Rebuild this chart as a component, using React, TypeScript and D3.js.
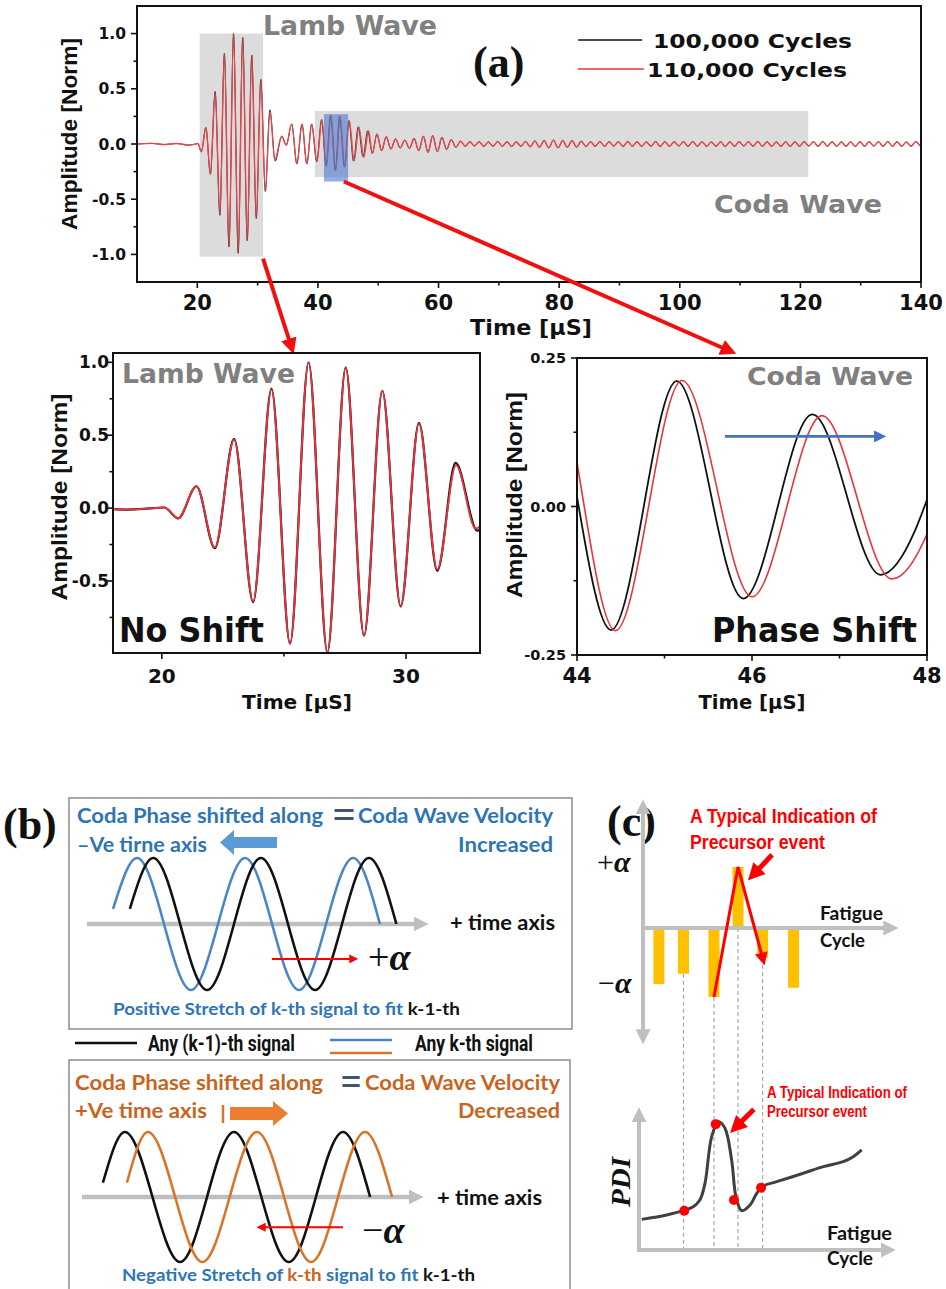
import { curveCatmullRom, curveMonotoneX, line, scaleLinear } from 'd3'

type Pt = [number, number]

// ---- (a) recorded signals: picked extrema [time µs, normalised amplitude]
const BLACK_EXTREMA: Pt[] = [
  [10, 0], [12.5, 0.006], [14.5, -0.005], [16.5, 0.005], [18.6, -0.01], [19.4, -0.004], [20.1, 0.004],
  [20.67, -0.07], [21.42, 0.15], [22.17, -0.275], [22.96, 0.475], [23.74, -0.645], [24.49, 0.82],
  [25.25, -0.93], [26.01, 1.0], [26.78, -0.99], [27.53, 0.965], [28.28, -0.875], [29.03, 0.805],
  [29.78, -0.675], [30.53, 0.585], [31.28, -0.43], [32.03, 0.31], [32.92, -0.155],
  [34.0, 0.07], [34.75, -0.01], [35.65, 0.18], [36.5, -0.18], [37.35, 0.18], [38.15, -0.18],
  [38.95, 0.18], [39.8, -0.16], [40.6, 0.22], [41.35, -0.2], [42.1, 0.26], [42.88, -0.24],
  [43.6, 0.25], [44.39, -0.208], [45.14, 0.211], [45.9, -0.155], [46.69, 0.155], [47.47, -0.115],
  [48.25, 0.12],
]
const RED_EXTREMA: Pt[] = [
  [10, 0], [12.5, 0.006], [14.5, -0.005], [16.5, 0.005], [18.6, -0.01], [19.4, -0.004], [20.1, 0.004],
  [20.67, -0.07], [21.42, 0.15], [22.17, -0.27], [22.96, 0.47], [23.74, -0.64], [24.49, 0.815],
  [25.25, -0.93], [26.01, 1.0], [26.78, -0.99], [27.53, 0.963], [28.28, -0.875], [29.03, 0.805],
  [29.78, -0.67], [30.53, 0.58], [31.28, -0.42], [32.05, 0.295], [32.85, -0.14],
  [34.0, 0.07], [34.75, -0.01], [35.66, 0.18], [36.52, -0.18], [37.37, 0.18], [38.18, -0.18],
  [38.98, 0.18], [39.84, -0.16], [40.65, 0.22], [41.4, -0.2], [42.16, 0.26], [42.94, -0.24],
  [43.68, 0.25], [44.44, -0.209], [45.2, 0.212], [46.0, -0.152], [46.8, 0.153], [47.6, -0.122],
  [48.4, 0.12],
]
// late coda, one extremum every half period
const TAIL_T0 = 49.02
const TAIL_DT = 0.77
const TAIL_AMPLITUDE = [
  -0.085, 0.09, -0.06, 0.065, -0.045, 0.045, -0.035, 0.035, -0.04, 0.05,
  -0.06, 0.07, -0.075, 0.075, -0.07, 0.06, -0.05, 0.04, -0.03, 0.025,
  -0.02, 0.02, -0.018, 0.02, -0.02, 0.018, -0.02, 0.022, -0.02, 0.02,
  -0.022, 0.02, -0.02, 0.022, -0.025, 0.028, -0.03, 0.032, -0.035, 0.035,
  -0.035, 0.032, -0.03, 0.03, -0.028, 0.025, -0.022, 0.02, -0.02, 0.022,
  -0.02, 0.02, -0.018, 0.02, -0.022, 0.022, -0.02, 0.02, -0.02, 0.018,
  -0.02, 0.022, -0.022, 0.02, -0.02, 0.02, -0.018, 0.02, -0.02, 0.022,
  -0.02, 0.02, -0.02, 0.018, -0.02, 0.02, -0.022, 0.02, -0.02, 0.02,
  -0.018, 0.02, -0.02, 0.022, -0.02, 0.02, -0.02, 0.018, -0.02, 0.02,
  -0.022, 0.02, -0.02, 0.02, -0.018, 0.02, -0.02, 0.022, -0.02, 0.02,
  -0.02, 0.018, -0.02, 0.02, -0.022, 0.02, -0.02, 0.02, -0.018, 0.02,
  -0.02, 0.022, -0.02, 0.02, -0.02, 0.018, -0.02, 0.02, -0.02,
]

const TOP_X_TICKS = [20, 40, 60, 80, 100, 120, 140]
const TOP_X_MINOR = [30, 50, 70, 90, 110, 130]
const TOP_Y_TICKS = [-1, -0.5, 0, 0.5, 1]
const TOP_Y_MINOR = [-0.75, -0.25, 0.25, 0.75]
const LAMB_X_TICKS = [20, 30]
const LAMB_X_MINOR = [25]
const LAMB_Y_TICKS = [-0.5, 0, 0.5, 1]
const LAMB_Y_MINOR = [-0.75, -0.25, 0.25, 0.75]
const CODA_X_TICKS = [44, 46, 48]
const CODA_X_MINOR = [45, 47]
const CODA_Y_TICKS = [-0.25, 0, 0.25]
const CODA_Y_MINOR = [-0.125, 0.125]

// ---- (b) schematic waves: extrema [time unit, normalised amplitude]
const B_UP_PREV: Pt[] = [[12.5, 0.23], [19.3, 1], [35.0, -1], [50.7, 1], [66.5, -1], [82.2, 1], [90.2, 0]]
const B_UP_CURR: Pt[] = [[7.6, 0.23], [14.6, 1], [30.3, -1], [46.1, 1], [61.8, -1], [77.6, 1], [85.4, 0]]
const B_DOWN_PREV: Pt[] = [[6.1, 0.22], [12.5, 1], [28.6, -1], [44.3, 1], [60.3, -1], [76.1, 1], [84.0, 0]]
const B_DOWN_CURR: Pt[] = [[13.1, 0.22], [19.2, 1], [35.1, -1], [51.0, 1], [66.8, -1], [82.5, 1], [90.4, 0]]

// ---- (c) stretching factor per fatigue cycle, and PDI trend
const C_CYCLES = [7.0, 16.6, 28.5, 37.9, 47.5, 59.6]
const C_ALPHA = [-0.92, -0.75, -1.13, 1.0, -0.49, -0.98]
const PDI_CURVE: Pt[] = [
  [0.3, 0.222], [10, 0.254], [16.5, 0.285], [20.4, 0.314], [23, 0.362], [25, 0.483], [27.6, 0.821],
  [30.2, 0.93], [32.8, 0.882], [35.4, 0.652], [37.1, 0.386], [39.3, 0.285], [42.6, 0.326],
  [45.2, 0.411], [47.8, 0.464], [53, 0.495], [63.4, 0.556], [71.2, 0.604], [79, 0.64],
  [82.9, 0.676], [86.2, 0.725],
]
const PDI_DOTS: Pt[] = [[16.9, 0.285], [29.2, 0.912], [36.3, 0.362], [46.9, 0.451]]

const DEJAVU = '"DejaVu Sans", Verdana, sans-serif'
const ARIAL = '"Liberation Sans", Arial, sans-serif'
const NARROW = '"Liberation Sans Narrow", "Liberation Sans", Arial, sans-serif'
const SERIF = '"Liberation Serif", "Times New Roman", serif'
const CALIBRI = 'Lato, "Open Sans", sans-serif'

const RED = '#e8343a'
const BLUE_TXT = '#2e75b6'
const ORANGE_TXT = '#c8641e'
const GRAY_TXT = '#808080'

const TOP = { x0: 137, x1: 921, y0: 6, y1: 282 }
const LZ = { x0: 113, x1: 480, y0: 353, y1: 653 }
const CZ = { x0: 577, x1: 927, y0: 358, y1: 655 }

const trace = (x: (v: number) => number, y: (v: number) => number) =>
  line<Pt>()
    .x((d) => x(d[0]))
    .y((d) => y(d[1]))
    .curve(curveMonotoneX)

const tailPoints: Pt[] = TAIL_AMPLITUDE.map((a, i) => [TAIL_T0 + i * TAIL_DT, a])

const Marker = ({ id, size, fill }: { id: string; size: number; fill: string }) => (
  <marker
    id={id}
    viewBox="0 0 10 10"
    refX="4"
    refY="5"
    markerWidth={size}
    markerHeight={size}
    markerUnits="userSpaceOnUse"
    orient="auto-start-reverse"
  >
    <path d="M0,0L10,5L0,10z" fill={fill} />
  </marker>
)

interface Box {
  x0: number
  x1: number
  y0: number
  y1: number
}

const Ticks = ({
  box,
  x,
  y,
  xTicks,
  xMinor,
  yTicks,
  yMinor,
}: {
  box: Box
  x: (v: number) => number
  y: (v: number) => number
  xTicks: number[]
  xMinor: number[]
  yTicks: number[]
  yMinor: number[]
}) => (
  <g stroke="#111" strokeWidth={1.6}>
    {xTicks.map((v) => (
      <line key={`xt${v}`} x1={x(v)} x2={x(v)} y1={box.y1} y2={box.y1 + 6} />
    ))}
    {xMinor.map((v) => (
      <line key={`xm${v}`} x1={x(v)} x2={x(v)} y1={box.y1} y2={box.y1 + 3.5} />
    ))}
    {yTicks.map((v) => (
      <line key={`yt${v}`} x1={box.x0 - 6} x2={box.x0} y1={y(v)} y2={y(v)} />
    ))}
    {yMinor.map((v) => (
      <line key={`ym${v}`} x1={box.x0 - 3.5} x2={box.x0} y1={y(v)} y2={y(v)} />
    ))}
    <rect x={box.x0} y={box.y0} width={box.x1 - box.x0} height={box.y1 - box.y0} fill="none" strokeWidth={2} />
  </g>
)

const topX = scaleLinear().domain([10, 140]).range([TOP.x0, TOP.x1])
const topY = scaleLinear().domain([-1.25, 1.25]).range([TOP.y1, TOP.y0])
const lambX = scaleLinear().domain([18, 33.03]).range([LZ.x0, LZ.x1])
const lambY = scaleLinear().domain([-0.994, 1.064]).range([LZ.y1, LZ.y0])
const codaX = scaleLinear().domain([44, 48]).range([CZ.x0, CZ.x1])
const codaY = scaleLinear().domain([-0.25, 0.25]).range([CZ.y1, CZ.y0])

const PanelA = () => {
  const gen = trace(topX, topY)
  const black = gen([...BLACK_EXTREMA, ...tailPoints]) ?? ''
  const red = gen([...RED_EXTREMA, ...tailPoints]) ?? ''
  return (
    <g>
      <clipPath id="clipTop">
        <rect x={TOP.x0} y={TOP.y0} width={TOP.x1 - TOP.x0} height={TOP.y1 - TOP.y0} />
      </clipPath>
      <rect x={topX(20.4)} y={topY(1.0)} width={topX(30.9) - topX(20.4)} height={topY(-1.02) - topY(1.0)} fill="#dcdcdc" />
      <rect x={topX(39.5)} y={topY(0.3)} width={topX(121.3) - topX(39.5)} height={topY(-0.3) - topY(0.3)} fill="#dcdcdc" />
      <g clipPath="url(#clipTop)" fill="none">
        <path d={black} stroke="#1a1a1a" strokeWidth={0.9} />
        <path d={red} stroke="#e4484c" strokeWidth={1.4} />
      </g>
      <rect x={topX(41)} y={topY(0.27)} width={topX(45) - topX(41)} height={topY(-0.34) - topY(0.27)} fill="#4a7ad2" fillOpacity={0.6} />
      <Ticks box={TOP} x={topX} y={topY} xTicks={TOP_X_TICKS} xMinor={TOP_X_MINOR} yTicks={TOP_Y_TICKS} yMinor={TOP_Y_MINOR} />
      <g fontFamily={DEJAVU} fontWeight={700} fill="#111">
        {TOP_X_TICKS.map((v) => (
          <text key={v} x={topX(v)} y={310} fontSize={21} textAnchor="middle">{v}</text>
        ))}
        {TOP_Y_TICKS.map((v) => (
          <text key={v} x={126} y={topY(v) + 5.5} fontSize={15.5} textAnchor="end">{v.toFixed(1)}</text>
        ))}
        <text x={531} y={335} fontSize={22} textAnchor="middle" textLength={122} lengthAdjust="spacingAndGlyphs">Time [μS]</text>
        <text x={263} y={35} fontSize={26} fill={GRAY_TXT} textLength={174} lengthAdjust="spacingAndGlyphs">Lamb Wave</text>
        <text x={714} y={213} fontSize={25} fill={GRAY_TXT} textLength={168} lengthAdjust="spacingAndGlyphs">Coda Wave</text>
        <text x={653} y={48} fontSize={19.5} textLength={199} lengthAdjust="spacingAndGlyphs">100,000 Cycles</text>
        <text x={647} y={77} fontSize={19.5} textLength={200} lengthAdjust="spacingAndGlyphs">110,000 Cycles</text>
      </g>
      <line x1={578} x2={642} y1={40} y2={40} stroke="#111" strokeWidth={1.5} />
      <line x1={578} x2={644} y1={69} y2={69} stroke={RED} strokeWidth={1.5} />
      <text x={473} y={77} fontFamily={SERIF} fontWeight={700} fontSize={44} fill="#111">(a)</text>
      <text
        transform="translate(77,134) rotate(-90)"
        textAnchor="middle"
        fontFamily={ARIAL}
        fontWeight={700}
        fontSize={22}
        textLength={192}
        lengthAdjust="spacingAndGlyphs"
        fill="#111"
      >
        Amplitude [Norm]
      </text>
      {/* zoom connectors */}
      <line x1={topX(30.9)} y1={topY(-1.02) + 2} x2={lambX(25.28)} y2={LZ.y0 - 8} stroke="#f01010" strokeWidth={4} markerEnd="url(#ahRedA)" />
      <line x1={topX(44.3)} y1={topY(-0.34)} x2={codaX(45.72)} y2={CZ.y0 - 8} stroke="#f01010" strokeWidth={4} markerEnd="url(#ahRedA)" />
    </g>
  )
}

const YLabel = ({ x, y, len }: { x: number; y: number; len: number }) => (
  <text
    transform={`translate(${x},${y}) rotate(-90)`}
    textAnchor="middle"
    fontFamily={ARIAL}
    fontWeight={700}
    fontSize={22}
    textLength={len}
    lengthAdjust="spacingAndGlyphs"
    fill="#111"
  >
    Amplitude [Norm]
  </text>
)

const LambZoom = () => {
  const gen = trace(lambX, lambY)
  return (
    <g>
      <clipPath id="clipLamb">
        <rect x={LZ.x0} y={LZ.y0 - 2} width={LZ.x1 - LZ.x0} height={LZ.y1 - LZ.y0 + 4} />
      </clipPath>
      <g clipPath="url(#clipLamb)" fill="none">
        <path d={gen(BLACK_EXTREMA) ?? ''} stroke="#111" strokeWidth={2.2} />
        <path d={gen(RED_EXTREMA) ?? ''} stroke={RED} strokeWidth={1.8} />
      </g>
      <Ticks box={LZ} x={lambX} y={lambY} xTicks={LAMB_X_TICKS} xMinor={LAMB_X_MINOR} yTicks={LAMB_Y_TICKS} yMinor={LAMB_Y_MINOR} />
      <g fontFamily={DEJAVU} fontWeight={700} fill="#111">
        {LAMB_X_TICKS.map((v) => (
          <text key={v} x={lambX(v)} y={683} fontSize={20} textAnchor="middle">{v}</text>
        ))}
        {LAMB_Y_TICKS.map((v) => (
          <text key={v} x={109} y={lambY(v) + 6} fontSize={17} textAnchor="end">{v.toFixed(1)}</text>
        ))}
        <text x={297} y={709} fontSize={20} textAnchor="middle" textLength={110} lengthAdjust="spacingAndGlyphs">Time [μS]</text>
        <text x={122} y={383} fontSize={26} fill={GRAY_TXT} textLength={173} lengthAdjust="spacingAndGlyphs">Lamb Wave</text>
        <text x={119} y={642} fontSize={34} textLength={145} lengthAdjust="spacingAndGlyphs">No Shift</text>
      </g>
      <YLabel x={67} y={497} len={207} />
    </g>
  )
}

const CodaZoom = () => {
  const gen = trace(codaX, codaY)
  return (
    <g>
      <clipPath id="clipCoda">
        <rect x={CZ.x0} y={CZ.y0} width={CZ.x1 - CZ.x0} height={CZ.y1 - CZ.y0} />
      </clipPath>
      <g clipPath="url(#clipCoda)" fill="none">
        <path d={gen(BLACK_EXTREMA) ?? ''} stroke="#111" strokeWidth={1.8} />
        <path d={gen(RED_EXTREMA) ?? ''} stroke={RED} strokeWidth={1.6} />
      </g>
      <line x1={codaX(45.69)} x2={codaX(47.45)} y1={codaY(0.118)} y2={codaY(0.118)} stroke="#4472c4" strokeWidth={2.6} markerEnd="url(#ahBlue)" />
      <Ticks box={CZ} x={codaX} y={codaY} xTicks={CODA_X_TICKS} xMinor={CODA_X_MINOR} yTicks={CODA_Y_TICKS} yMinor={CODA_Y_MINOR} />
      <g fontFamily={DEJAVU} fontWeight={700} fill="#111">
        {CODA_X_TICKS.map((v) => (
          <text key={v} x={codaX(v)} y={683} fontSize={21} textAnchor="middle">{v}</text>
        ))}
        {CODA_Y_TICKS.map((v) => (
          <text key={v} x={566} y={codaY(v) + 5} fontSize={14.5} textAnchor="end">{v.toFixed(2)}</text>
        ))}
        <text x={752} y={709} fontSize={20} textAnchor="middle" textLength={107} lengthAdjust="spacingAndGlyphs">Time [μS]</text>
        <text x={747} y={385} fontSize={25} fill={GRAY_TXT} textLength={166} lengthAdjust="spacingAndGlyphs">Coda Wave</text>
        <text x={712} y={642} fontSize={34} textLength={205} lengthAdjust="spacingAndGlyphs">Phase Shift</text>
      </g>
      <YLabel x={522} y={495} len={206} />
    </g>
  )
}

const bTopX = scaleLinear().domain([0, 100]).range([87, 430])
const bTopY = scaleLinear().domain([-1, 1]).range([990, 858])
const bBotX = scaleLinear().domain([0, 100]).range([82, 425])
const bBotY = scaleLinear().domain([-1, 1]).range([1262, 1132])

const Txt = ({
  x,
  y,
  w,
  size = 21,
  fill,
  anchor = 'start',
  children,
  family = CALIBRI,
}: {
  x: number
  y: number
  w: number
  size?: number
  fill: string
  anchor?: 'start' | 'middle' | 'end'
  children: React.ReactNode
  family?: string
}) => (
  <text
    x={x}
    y={y}
    fontFamily={family}
    fontWeight={700}
    fontSize={size}
    fill={fill}
    textAnchor={anchor}
    textLength={w}
    lengthAdjust="spacingAndGlyphs"
  >
    {children}
  </text>
)

const PanelB = () => {
  const top = trace(bTopX, bTopY)
  const bot = trace(bBotX, bBotY)
  return (
    <g>
      <rect x={69} y={798} width={503} height={231} fill="none" stroke="#8c8c8c" strokeWidth={1.5} />
      <rect x={69} y={1060} width={501} height={240} fill="none" stroke="#8c8c8c" strokeWidth={1.5} />
      <text x={3} y={839} fontFamily={SERIF} fontWeight={700} fontSize={44} fill="#111">(b)</text>

      {/* upper: velocity increased */}
      <Txt x={77} y={823} w={246} fill={BLUE_TXT}>Coda Phase shifted along</Txt>
      <Txt x={333} y={824} w={22} size={28} fill="#44546a" family={ARIAL}>=</Txt>
      <Txt x={358} y={823} w={195} fill={BLUE_TXT}>Coda Wave Velocity</Txt>
      <Txt x={77} y={852} w={130} fill={BLUE_TXT}>–Ve tirne axis</Txt>
      <Txt x={553} y={852} w={95} fill={BLUE_TXT} anchor="end">Increased</Txt>
      <polygon points="220,842.5 234,830 234,837 277,837 277,848 234,848 234,855" fill="#5b9bd5" />
      <line x1={bTopX(0)} x2={bTopX(97)} y1={bTopY(0)} y2={bTopY(0)} stroke="#bfbfbf" strokeWidth={4.5} markerEnd="url(#ahGray)" />
      <path d={top(B_UP_CURR) ?? ''} fill="none" stroke="#4a86c5" strokeWidth={2.6} />
      <path d={top(B_UP_PREV) ?? ''} fill="none" stroke="#111" strokeWidth={2.6} />
      <line x1={bTopX(53.9)} x2={bTopX(77.5)} y1={bTopY(-0.53)} y2={bTopY(-0.53)} stroke="#ff0000" strokeWidth={2} markerEnd="url(#ahRedS)" />
      <text x={368} y={970} fontFamily={SERIF} fontSize={38} fill="#111">
        +<tspan fontStyle="italic" fontWeight={700}>α</tspan>
      </text>
      <Txt x={450} y={930} w={105} size={20} fill="#111">+ time axis</Txt>
      <text x={113} y={1015} fontFamily={CALIBRI} fontWeight={700} fontSize={17} textLength={347} lengthAdjust="spacingAndGlyphs">
        <tspan fill={BLUE_TXT}>Positive Stretch of k-th signal to fit </tspan>
        <tspan fill="#111">k-1-th</tspan>
      </text>

      {/* legend */}
      <line x1={75} x2={137} y1={1043} y2={1043} stroke="#111" strokeWidth={2.5} />
      <Txt x={148} y={1051} w={147} size={22} fill="#111" family="Roboto, sans-serif">Any (k-1)-th signal</Txt>
      <line x1={330} x2={392} y1={1040} y2={1040} stroke="#4a86c5" strokeWidth={2.5} />
      <line x1={330} x2={392} y1={1053} y2={1053} stroke="#d9752a" strokeWidth={2.5} />
      <Txt x={415} y={1051} w={118} size={22} fill="#111" family="Roboto, sans-serif">Any k-th signal</Txt>

      {/* lower: velocity decreased */}
      <Txt x={75} y={1090} w={248} fill={ORANGE_TXT}>Coda Phase shifted along</Txt>
      <Txt x={341} y={1091} w={20} size={28} fill="#44546a" family={ARIAL}>=</Txt>
      <Txt x={365} y={1090} w={195} fill={ORANGE_TXT}>Coda Wave Velocity</Txt>
      <Txt x={75} y={1118} w={132} fill={ORANGE_TXT}>+Ve time axis</Txt>
      <Txt x={560} y={1118} w={102} fill={ORANGE_TXT} anchor="end">Decreased</Txt>
      <line x1={223} x2={223} y1={1105} y2={1123} stroke="#d9752a" strokeWidth={2.5} />
      <polygon points="230,1107 273,1107 273,1101 288,1113.5 273,1126 273,1120 230,1120" fill="#ed7d31" />
      <line x1={bBotX(0)} x2={bBotX(97)} y1={bBotY(0)} y2={bBotY(0)} stroke="#bfbfbf" strokeWidth={4.5} markerEnd="url(#ahGray)" />
      <path d={bot(B_DOWN_PREV) ?? ''} fill="none" stroke="#111" strokeWidth={2.6} />
      <path d={bot(B_DOWN_CURR) ?? ''} fill="none" stroke="#d9752a" strokeWidth={2.6} />
      <line x1={bBotX(76.1)} x2={bBotX(52.5)} y1={bBotY(-0.465)} y2={bBotY(-0.465)} stroke="#ff0000" strokeWidth={2} markerEnd="url(#ahRedS)" />
      <text x={362} y={1243} fontFamily={SERIF} fontSize={38} fill="#111">
        −<tspan fontStyle="italic" fontWeight={700}>α</tspan>
      </text>
      <Txt x={437} y={1205} w={105} size={20} fill="#111">+ time axis</Txt>
      <text x={122} y={1281} fontFamily={CALIBRI} fontWeight={700} fontSize={17} textLength={353} lengthAdjust="spacingAndGlyphs">
        <tspan fill={BLUE_TXT}>Negative Stretch of </tspan>
        <tspan fill={ORANGE_TXT}>k-th</tspan>
        <tspan fill={BLUE_TXT}> signal to fit </tspan>
        <tspan fill="#111">k-1-th</tspan>
      </text>
    </g>
  )
}

const cycleX = scaleLinear().domain([0, 100]).range([641, 897])
const alphaY = scaleLinear().domain([-1, 1]).range([989, 867])
const pdiY = scaleLinear().domain([0, 1]).range([1250, 1112])

const PanelC = () => {
  const zig = line<number>()
    .x((i) => cycleX(C_CYCLES[i]))
    .y((i) => alphaY(C_ALPHA[i]))([2, 3, 4]) ?? ''
  const pdi = line<Pt>()
    .x((d) => cycleX(d[0]))
    .y((d) => pdiY(d[1]))
    .curve(curveCatmullRom)(PDI_CURVE) ?? ''
  return (
    <g>
      <text x={607} y={836} fontFamily={SERIF} fontWeight={700} fontSize={44} fill="#111">(c)</text>
      {[1, 2, 3, 4].map((i) => (
        <line
          key={i}
          x1={cycleX(C_CYCLES[i])}
          x2={cycleX(C_CYCLES[i])}
          y1={alphaY(Math.min(C_ALPHA[i], 0))}
          y2={pdiY(0)}
          stroke="#a6a6a6"
          strokeWidth={1.2}
          strokeDasharray="4 3"
        />
      ))}
      <line x1={cycleX(0) + 2} x2={cycleX(0) + 2} y1={alphaY(1.96)} y2={alphaY(-1.76)} stroke="#bfbfbf" strokeWidth={4} markerStart="url(#ahGray)" markerEnd="url(#ahGray)" />
      {C_CYCLES.map((c, i) => (
        <rect
          key={i}
          x={cycleX(c) - 5.5}
          width={11}
          y={alphaY(Math.max(C_ALPHA[i], 0))}
          height={Math.abs(alphaY(C_ALPHA[i]) - alphaY(0))}
          fill="#ffc000"
        />
      ))}
      <line x1={cycleX(0)} x2={cycleX(97)} y1={alphaY(0)} y2={alphaY(0)} stroke="#bfbfbf" strokeWidth={4} markerEnd="url(#ahGray)" />
      <path d={zig} fill="none" stroke="#ff0000" strokeWidth={3} markerEnd="url(#ahRedM)" />
      <line x1={cycleX(51.2)} y1={alphaY(1.2)} x2={cycleX(44.5)} y2={alphaY(0.9)} stroke="#ff0000" strokeWidth={5} markerEnd="url(#ahRedL)" />
      <text x={597} y={872} fontFamily={SERIF} fontSize={30} fill="#111">
        +<tspan fontStyle="italic" fontWeight={700}>α</tspan>
      </text>
      <text x={598} y={993} fontFamily={SERIF} fontSize={30} fill="#111">
        −<tspan fontStyle="italic" fontWeight={700}>α</tspan>
      </text>
      <Txt x={690} y={823} w={187} size={20} fill="#ff0000" family={NARROW}>A Typical Indication of</Txt>
      <Txt x={690} y={849} w={135} size={20} fill="#ff0000" family={NARROW}>Precursor event</Txt>
      <Txt x={820} y={920} w={63} size={18} fill="#111">Fatigue</Txt>
      <Txt x={820} y={947} w={45} size={18} fill="#111">Cycle</Txt>

      {/* PDI trend */}
      <line x1={cycleX(0) - 2} x2={cycleX(0) - 2} y1={pdiY(0) + 2} y2={pdiY(0.97)} stroke="#bfbfbf" strokeWidth={4} markerEnd="url(#ahGray)" />
      <line x1={cycleX(0) - 4} x2={cycleX(96)} y1={pdiY(0)} y2={pdiY(0)} stroke="#bfbfbf" strokeWidth={4} markerEnd="url(#ahGray)" />
      <path d={pdi} fill="none" stroke="#404040" strokeWidth={3} />
      {PDI_DOTS.map((d, i) => (
        <circle key={i} cx={cycleX(d[0])} cy={pdiY(d[1])} r={5} fill="#ff0000" />
      ))}
      <line x1={cycleX(44.1)} y1={pdiY(1.02)} x2={cycleX(37.6)} y2={pdiY(0.9)} stroke="#ff0000" strokeWidth={5} markerEnd="url(#ahRedL)" />
      <Txt x={767} y={1098} w={140} size={16} fill="#ff0000" family={NARROW}>A Typical Indication of</Txt>
      <Txt x={767} y={1117} w={100} size={16} fill="#ff0000" family={NARROW}>Precursor event</Txt>
      <text
        transform="translate(630,1182) rotate(-90)"
        textAnchor="middle"
        fontFamily={SERIF}
        fontWeight={700}
        fontStyle="italic"
        fontSize={28}
        fill="#111"
        textLength={50}
        lengthAdjust="spacingAndGlyphs"
      >
        PDI
      </text>
      <Txt x={827} y={1240} w={65} size={19} fill="#111">Fatigue</Txt>
      <Txt x={827} y={1265} w={46} size={19} fill="#111">Cycle</Txt>
    </g>
  )
}

export default function App() {
  return (
    <svg
      width={946}
      height={1289}
      viewBox="0 0 946 1289"
      style={{ position: 'absolute', left: 0, top: 0, display: 'block', background: '#fff' }}
    >
      <defs>
        <Marker id="ahRedA" size={16} fill="#f01010" />
        <Marker id="ahRedS" size={9} fill="#ff0000" />
        <Marker id="ahRedM" size={13} fill="#ff0000" />
        <Marker id="ahRedL" size={17} fill="#ff0000" />
        <Marker id="ahBlue" size={12} fill="#4472c4" />
        <Marker id="ahGray" size={15} fill="#bfbfbf" />
      </defs>
      <rect width={946} height={1289} fill="#fff" />
      <PanelA />
      <LambZoom />
      <CodaZoom />
      <PanelB />
      <PanelC />
    </svg>
  )
}
